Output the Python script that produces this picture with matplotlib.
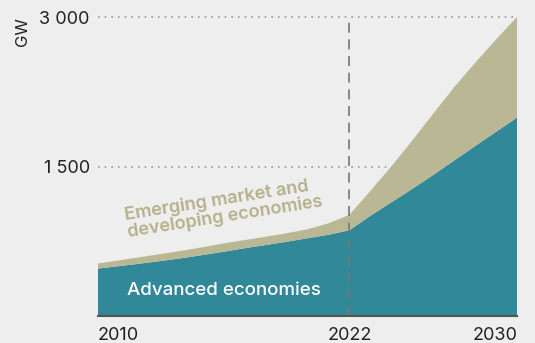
import numpy as np
import matplotlib
matplotlib.use('Agg')
import matplotlib.pyplot as plt

# --- data (GW) ---
years = [2010, 2011, 2012, 2013, 2014, 2015, 2016, 2017, 2018, 2019, 2020,
         2021, 2022, 2023, 2024, 2025, 2026, 2027, 2028, 2029, 2030]
advanced = [476, 500, 525, 552, 580, 612, 645, 680, 712, 745, 780,
            815, 860, 1005, 1140, 1275, 1415, 1560, 1705, 1848, 1990]
total = [527, 558, 590, 622, 655, 690, 728, 762, 795, 830, 870,
         930, 1015, 1255, 1500, 1760, 2030, 2295, 2540, 2775, 3000]
emerging = [t - a for t, a in zip(total, advanced)]

xticks = [2010, 2022, 2030]
yticks = [1500, 3000]
ytick_labels = ['1 500', '3 000']

bg = '#eeeeee'
teal = '#318898'
olive = '#bab795'

plt.rcParams['font.family'] = ['Inter', 'DejaVu Sans']

fig = plt.figure(figsize=(5.35, 3.43), dpi=100, facecolor=bg)
ax = fig.add_axes([98 / 535, 27 / 343, 419 / 535, 299 / 343])
ax.set_facecolor(bg)

ax.stackplot(years, advanced, emerging, colors=[teal, olive], linewidth=0)

ax.axvline(2022, color='#777777', linestyle=(0, (6, 4)), linewidth=1.2, zorder=3)

ax.set_xlim(2010, 2030)
ax.set_ylim(0, 3000)

for y in yticks:
    ax.axhline(y, color='#999999', linestyle=(0, (1, 3)), linewidth=1.2, zorder=0, clip_on=False)

ax.set_yticks(yticks)
ax.set_yticklabels(ytick_labels, fontsize=13, color='#222222')
ax.set_xticks(xticks)
ax.set_xticklabels([str(x) for x in xticks], fontsize=13, color='#222222')
labels = ax.get_xticklabels()
labels[0].set_ha('left')
labels[-1].set_ha('right')
ax.tick_params(axis='both', length=0)
ax.tick_params(axis='x', pad=8)
ax.tick_params(axis='y', pad=6)

for s in ['top', 'right', 'left']:
    ax.spines[s].set_visible(False)
ax.spines['bottom'].set_color('#555555')
ax.spines['bottom'].set_linewidth(1.5)
ax.spines['bottom'].set_zorder(4)

fig.text(22 / 535, 1 - 32 / 343, 'GW', rotation=90, ha='center', va='center',
         fontsize=12, color='#222222')

ax.text(2016.0, 1080, 'Emerging market and\ndeveloping economies', rotation=9,
        rotation_mode='anchor', ha='center', va='center', ma='left',
        fontsize=13, color='#b5b18a', fontweight='semibold', linespacing=1.0)
ax.text(2016.0, 252, 'Advanced economies', ha='center', va='center',
        fontsize=13.5, color='white', fontweight='medium')

fig.savefig('out.png', dpi=100, facecolor=bg)
